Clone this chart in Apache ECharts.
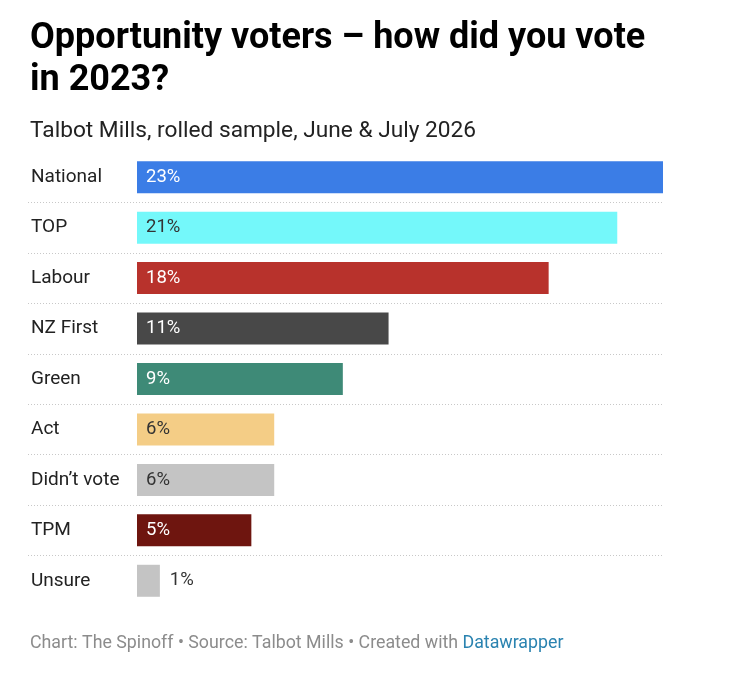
<!DOCTYPE html>
<html>
<head>
<meta charset="utf-8">
<script src="https://cdn.jsdelivr.net/npm/echarts@6/dist/echarts.min.js"></script>
<style>
    html, body { margin: 0; padding: 0; background: #fff; }
    #chart { width: 746px; height: 676px; }
</style>
</head>
<body>
<div id="chart"></div>
<script>
const categories = ['National', 'TOP', 'Labour', 'NZ First', 'Green', 'Act', 'Didn\u2019t vote', 'TPM', 'Unsure'];
const shares = [23, 21, 18, 11, 9, 6, 6, 5, 1];
const barColors = ['#3b7de6', '#74f8fa', '#b8322c', '#484848', '#3e8a77', '#f4cd86', '#c4c4c4', '#6e150f', '#c4c4c4'];
const labelColors = ['#fff', '#333', '#fff', '#fff', '#fff', '#333', '#333', '#fff', '#333'];

onload = () => {
    const chart = echarts.init(document.getElementById('chart'));

    // bars start at x=137 inside a grid that begins at x=28 (for the dotted row lines)
    const maxVal = 23;
    const gridLeft = 28, gridRight = 83, barStart = 137;
    const gridW = 746 - gridLeft - gridRight;
    const minVal = -maxVal * (barStart - gridLeft) / (gridW - (barStart - gridLeft));

    const data = shares.map((v, i) => ({
        value: v,
        itemStyle: { color: barColors[i] },
        label: v < 3
            ? { position: 'right', distance: 10, color: labelColors[i] }
            : { position: 'insideLeft', distance: 9, color: labelColors[i] },
    }));

    const option = {
        backgroundColor: '#fff',
        animation: false,
        textStyle: { fontFamily: 'Roboto' },
        title: [
            {
                text: 'Opportunity voters \u2013 how did you vote\nin 2023?',
                left: 30, top: 18, padding: 0,
                textStyle: { fontFamily: 'Roboto', fontWeight: 'bold', fontSize: 36, lineHeight: 42, color: '#000' },
            },
            {
                text: 'Talbot Mills, rolled sample, June & July 2026',
                left: 30, top: 120, padding: 0,
                textStyle: { fontFamily: 'Roboto', fontWeight: 'normal', fontSize: 22.7, color: '#222' },
            },
            {
                text: '{a|Chart: The Spinoff \u2022 Source: Talbot Mills \u2022 Created with }{b|Datawrapper}',
                left: 30, top: 635, padding: 0,
                textStyle: {
                    fontWeight: 'normal',
                    rich: {
                        a: { fontFamily: 'Roboto', fontWeight: 'normal', fontSize: 17.8, color: '#8c8c8c' },
                        b: { fontFamily: 'Roboto', fontWeight: 'normal', fontSize: 17.8, color: '#2a83b0' },
                    },
                },
            },
        ],
        grid: { left: gridLeft, right: gridRight, top: 152, height: 454 },
        xAxis: {
            type: 'value',
            min: minVal,
            max: maxVal,
            show: false,
        },
        yAxis: {
            type: 'category',
            data: categories,
            inverse: true,
            axisLine: { show: false, onZero: false },
            axisTick: { show: false },
            axisLabel: {
                inside: true,
                margin: 3,
                padding: [6, 0, 0, 0],
                fontFamily: 'Roboto',
                fontSize: 19,
                color: '#222',
            },
            splitLine: {
                show: true,
                showMinLine: false,
                showMaxLine: false,
                lineStyle: { color: '#c8c8c8', type: [1, 2], width: 1 },
            },
        },
        series: [
            {
                type: 'bar',
                data: data,
                barWidth: 32,
                label: {
                    show: true,
                    fontFamily: 'Roboto',
                    fontSize: 18.5,
                    padding: [5, 0, 0, 0],
                    formatter: (p) => p.value + '%',
                },
            },
        ],
    };
    chart.setOption(option);
};
</script>
</body>
</html>
